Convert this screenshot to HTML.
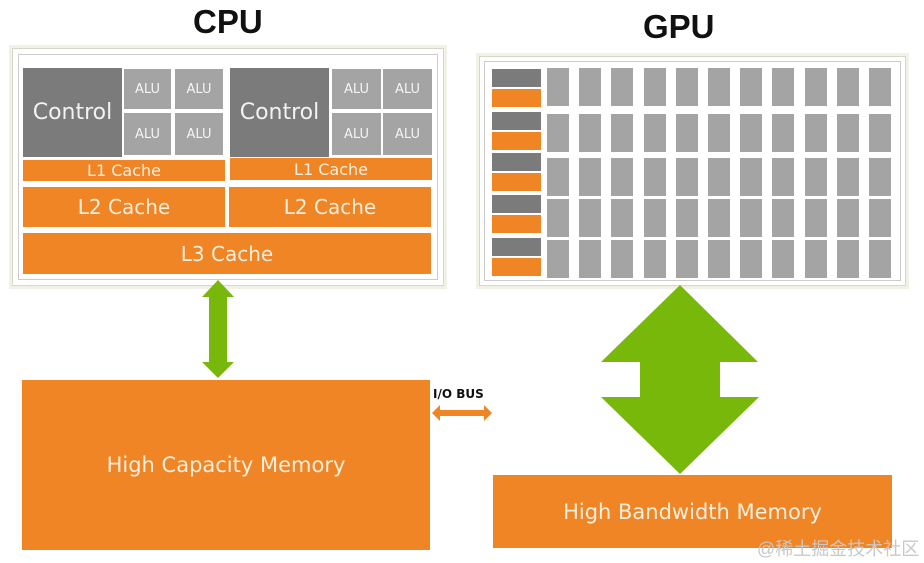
<!DOCTYPE html>
<html><head><style>
body{margin:0;width:924px;height:563px;background:#fff;position:relative;overflow:hidden;font-family:"DejaVu Sans","Liberation Sans",sans-serif;}
div{position:absolute;box-sizing:border-box;}
.o{background:#f08526;color:#fbeedd;display:flex;align-items:center;justify-content:center;}
.c{background:#7b7b7b;color:#f2f2f2;display:flex;align-items:center;justify-content:center;font-size:22px;}
.a{background:#a4a4a4;color:#f4f4f4;display:flex;align-items:center;justify-content:center;font-size:13px;}
.g{background:#a4a4a4;}
.t{font-weight:bold;font-size:33px;color:#111;font-family:"Liberation Sans",sans-serif;}
</style></head><body>
<div class="t" style="left:193px;top:3px;">CPU</div>
<div class="t" style="left:643px;top:8px;">GPU</div>
<div style="left:12px;top:48px;width:432px;height:238px;border:1px solid #d8d6c6;box-shadow:0 0 0 3px #f2f1e8;"></div>
<div style="left:18px;top:54px;width:420px;height:226px;border:1px solid #ccc;"></div>
<div class="c" style="left:23px;top:68px;width:99px;height:89px;">Control</div>
<div class="a" style="left:124px;top:69px;width:47px;height:40px;">ALU</div>
<div class="a" style="left:175px;top:69px;width:48px;height:40px;">ALU</div>
<div class="a" style="left:124px;top:113px;width:47px;height:42px;">ALU</div>
<div class="a" style="left:175px;top:113px;width:48px;height:42px;">ALU</div>
<div class="c" style="left:230px;top:68px;width:99px;height:89px;">Control</div>
<div class="a" style="left:332px;top:69px;width:49px;height:40px;">ALU</div>
<div class="a" style="left:383px;top:69px;width:49px;height:40px;">ALU</div>
<div class="a" style="left:332px;top:113px;width:49px;height:42px;">ALU</div>
<div class="a" style="left:383px;top:113px;width:49px;height:42px;">ALU</div>
<div class="o" style="left:23px;top:160px;width:202px;height:21px;font-size:16px;">L1 Cache</div>
<div class="o" style="left:230px;top:158px;width:202px;height:22px;font-size:16px;">L1 Cache</div>
<div class="o" style="left:23px;top:187px;width:202px;height:40px;font-size:20px;">L2 Cache</div>
<div class="o" style="left:229px;top:187px;width:202px;height:40px;font-size:20px;">L2 Cache</div>
<div class="o" style="left:23px;top:233px;width:408px;height:41px;font-size:20px;">L3 Cache</div>

<div style="left:479px;top:56px;width:427px;height:230px;border:1px solid #d8d6c6;box-shadow:0 0 0 3px #f2f1e8;"></div>
<div style="left:484px;top:61px;width:417px;height:220px;border:1px solid #ccc;"></div>
<div id="gpu"></div>
<script>
var h='';
var ry=[68,114,158,199,240];
for(var r=0;r<5;r++){var y=[69,112,153,195,238][r];
h+='<div style="left:492px;top:'+y+'px;width:49px;height:18px;background:#7b7b7b"></div>';
h+='<div style="left:492px;top:'+(y+20)+'px;width:49px;height:18px;background:#f08526"></div>';
for(var c=0;c<11;c++){h+='<div class="g" style="left:'+(547+c*32.2)+'px;top:'+ry[r]+'px;width:22px;height:38px"></div>';}}
document.getElementById('gpu').outerHTML=h;
</script>
<svg style="position:absolute;left:0;top:0" width="924" height="563">
<polygon fill="#78b80a" points="218,280 234,297 227,297 227,362 234,362 218,378 202,362 209,362 209,297 202,297"/>
<polygon fill="#78b80a" points="680,285 758,362 720,362 720,397 759,397 680,474 601,397 640,397 640,362 601,362"/>
<polygon fill="#f08526" points="432,413 440,405 440,410 484,410 484,405 492,413 484,421 484,416 440,416 440,421"/>
</svg>
<div class="o" style="left:22px;top:380px;width:408px;height:170px;font-size:21px;">High Capacity Memory</div>
<div style="left:433px;top:387px;font-size:12px;font-weight:bold;color:#111;">I/O BUS</div>
<div class="o" style="left:493px;top:475px;width:399px;height:73px;font-size:21px;">High Bandwidth Memory</div>
<div style="left:757px;top:535px;font-size:18px;color:#c8c8c8;font-family:'Liberation Sans','Noto Sans CJK SC',sans-serif;">@稀土掘金技术社区</div>
</body></html>
